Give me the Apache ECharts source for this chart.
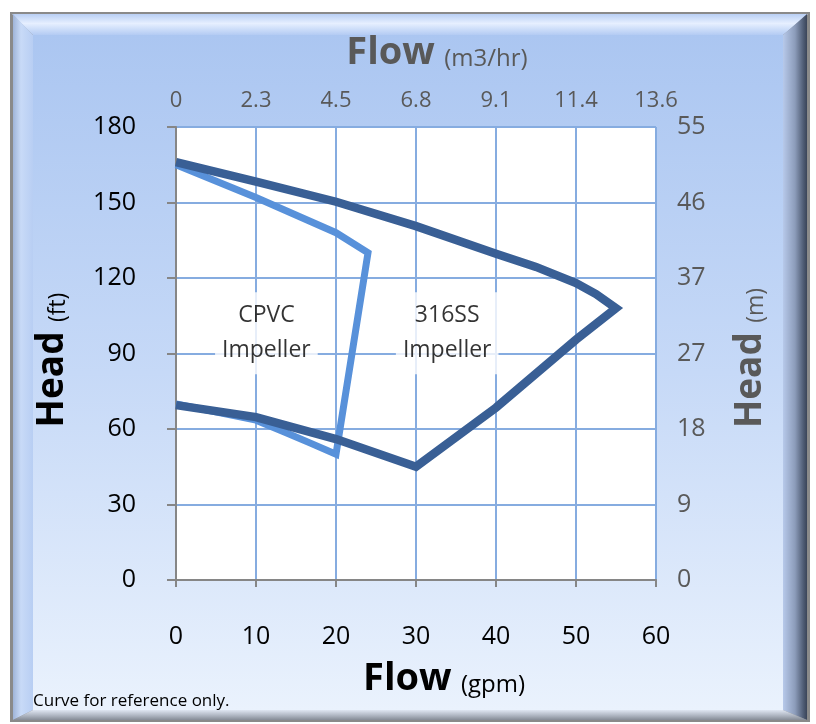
<!DOCTYPE html>
<html>
<head>
<meta charset="utf-8">
<script src="https://cdn.jsdelivr.net/npm/echarts@6/dist/echarts.min.js"></script>
<style>
html,body{margin:0;padding:0;background:#fff;}
#chart{width:816px;height:724px;}
</style>
</head>
<body>
<div id="chart"></div>
<script>
// ---- data ----
const flowGpmTicks = [0, 10, 20, 30, 40, 50, 60];
const flowM3Labels = ['0', '2.3', '4.5', '6.8', '9.1', '11.4', '13.6'];
const headFtTicks = [0, 30, 60, 90, 120, 150, 180];
const headMLabels = ['0', '9', '18', '27', '37', '46', '55'];

// 316SS impeller curve (gpm, ft), drawn in order
const ssFlow = [0, 10, 20, 30, 40, 45, 50, 52.5, 55, 50, 40, 30, 20, 10, 0];
const ssHead = [166, 158.3, 150.3, 140.6, 129.6, 124.4, 118, 113.6, 108, 95.5, 68.5, 45, 56, 64.7, 69.5];

// CPVC impeller curve (gpm, ft)
const cpvcFlow = [0, 10, 20, 24, 20, 16.8, 13.4, 10, 0];
const cpvcHead = [165, 152, 138, 130, 50, 54.4, 59, 63.5, 70];

// annotations (gpm, ft)
const noteText = ['CPVC\nImpeller', '316SS\nImpeller'];
const noteFlow = [11.3, 33.9];
const noteHead = [98, 98];

const zip = (xs, ys) => xs.map((x, i) => [x, ys[i]]);

const FONT = '"Open Sans", "Noto Sans", sans-serif';
const grid = {left: 176, right: 160, top: 127, bottom: 144};
const gridColor = '#86ACE0';
const axisGray = '#868686';

const chart = echarts.init(document.getElementById('chart'), null, {renderer: 'canvas'});

const W = 816, H = 724;
const ox = 10, oy = 12, ow = 800, oh = 710; // outer frame
const bl = 23, bt = 23, br = 27, bb = 12;    // bevel sizes
const ix = ox + bl, iy = oy + bt, iw = ow - bl - br, ih = oh - bt - bb;

const lin = (x0, y0, x1, y1, stops) => new echarts.graphic.LinearGradient(x0, y0, x1, y1, stops.map(s => ({offset: s[0], color: s[1]})));

const option = {
  animation: false,
  backgroundColor: '#ffffff',
  grid: grid,
  xAxis: [
    {
      type: 'value', position: 'bottom', min: 0, max: 60, interval: 10,
      axisLine: {show: true, lineStyle: {color: axisGray, width: 2}},
      axisTick: {show: true, length: 7, lineStyle: {color: axisGray, width: 2}},
      splitLine: {show: true, lineStyle: {color: gridColor, width: 2}},
      axisLabel: {
        margin: 44, fontSize: 25, color: '#000', fontFamily: FONT,
        formatter: v => { const i = flowGpmTicks.indexOf(v); return i >= 0 ? String(flowGpmTicks[i]) : ''; }
      }
    },
    {
      type: 'value', position: 'top', min: 0, max: 60, interval: 10,
      axisLine: {show: false}, axisTick: {show: false}, splitLine: {show: false},
      axisLabel: {
        margin: 15, fontSize: 22, color: '#595959', fontFamily: FONT,
        formatter: v => { const i = flowGpmTicks.indexOf(v); return i >= 0 ? flowM3Labels[i] : ''; }
      }
    }
  ],
  yAxis: [
    {
      type: 'value', position: 'left', min: 0, max: 180, interval: 30,
      axisLine: {show: true, lineStyle: {color: axisGray, width: 2}},
      axisTick: {show: true, length: 9, lineStyle: {color: axisGray, width: 2}},
      splitLine: {show: true, lineStyle: {color: gridColor, width: 2}},
      axisLabel: {
        margin: 40, fontSize: 25, color: '#000', fontFamily: FONT,
        formatter: v => { const i = headFtTicks.indexOf(v); return i >= 0 ? String(headFtTicks[i]) : ''; }
      }
    },
    {
      type: 'value', position: 'right', min: 0, max: 180, interval: 30,
      axisLine: {show: false}, axisTick: {show: false}, splitLine: {show: false},
      axisLabel: {
        margin: 21, fontSize: 25, color: '#595959', fontFamily: FONT,
        formatter: v => { const i = headFtTicks.indexOf(v); return i >= 0 ? headMLabels[i] : ''; }
      }
    }
  ],
  series: [
    {
      name: 'CPVC', type: 'line', xAxisIndex: 0, yAxisIndex: 0,
      data: zip(cpvcFlow, cpvcHead), showSymbol: false, symbol: 'none',
      smooth: false, lineStyle: {color: '#5891DA', width: 7, join: 'miter', cap: 'butt'}, z: 3
    },
    {
      name: '316SS', type: 'line', xAxisIndex: 0, yAxisIndex: 0,
      data: zip(ssFlow, ssHead), showSymbol: false, symbol: 'none',
      smooth: false, lineStyle: {color: '#395F95', width: 8.5, join: 'miter', cap: 'butt'}, z: 4
    },
    {
      name: 'notes', type: 'scatter', xAxisIndex: 0, yAxisIndex: 0,
      symbolSize: 1, itemStyle: {color: 'rgba(0,0,0,0)'}, z: 2,
      data: noteText.map((t, i) => ({value: [noteFlow[i], noteHead[i]], name: t})),
      label: {
        show: true, position: 'inside', formatter: p => p.name,
        fontSize: 23, lineHeight: 35, color: '#000', fontFamily: FONT,
        backgroundColor: '#ffffff', padding: [6, 7, 6, 7], align: 'center'
      }
    }
  ],
  graphic: [
    // outer frame
    {type: 'rect', z: -20, silent: true, shape: {x: ox, y: oy, width: ow, height: oh}, style: {fill: '#8a8a8a'}},
    // top bevel
    {type: 'polygon', z: -19, silent: true, shape: {points: [[ox+2, oy+2], [ox+ow-2, oy+2], [ix+iw, iy], [ix, iy]]},
      style: {fill: lin(0, 0, 0, 1, [[0, '#b9cff4'], [0.45, '#e6efff'], [1, '#b3cbf3']])}},
    // left bevel
    {type: 'polygon', z: -19, silent: true, shape: {points: [[ox+3, oy+2], [ix, iy], [ix, iy+ih], [ox+3, oy+oh-2]]},
      style: {fill: lin(0, 0, 1, 0, [[0, '#9fb4d8'], [0.4, '#c8daf7'], [1, '#b8cef3']])}},
    // right bevel
    {type: 'polygon', z: -19, silent: true, shape: {points: [[ox+ow-3, oy+2], [ox+ow-3, oy+oh-2], [ix+iw, iy+ih], [ix+iw, iy]]},
      style: {fill: lin(0, 0, 1, 0, [[0, '#b7c9ea'], [0.5, '#8c9cba'], [0.85, '#4f5c74'], [1, '#3a4458']])}},
    // bottom bevel
    {type: 'polygon', z: -19, silent: true, shape: {points: [[ox+3, oy+oh-2], [ix, iy+ih], [ix+iw, iy+ih], [ox+ow-3, oy+oh-2]]},
      style: {fill: lin(0, 0, 0, 1, [[0, '#dfe6f2'], [0.6, '#aab1bd'], [1, '#858b96']])}},
    // inner panel
    {type: 'rect', z: -18, silent: true, shape: {x: ix, y: iy, width: iw, height: ih},
      style: {fill: lin(0, 0, 0, 1, [[0, '#abc6f1'], [0.5, '#c6d9f7'], [1, '#eaf2fd']])}},
    // plot area white
    {type: 'rect', z: -17, silent: true, shape: {x: grid.left, y: grid.top, width: W - grid.left - grid.right, height: H - grid.top - grid.bottom}, style: {fill: '#ffffff'}},
    // titles
    {type: 'text', z: 10, silent: true, x: 437, y: 53,
      style: {text: '{b|Flow} {s|(m3/hr)}', align: 'center', verticalAlign: 'middle',
        rich: {b: {fontSize: 38, fontWeight: 'bold', fill: '#595959', fontFamily: FONT}, s: {fontSize: 24, fill: '#595959', fontFamily: FONT, padding: [12, 0, 0, 6]}}}},
    {type: 'text', z: 10, silent: true, x: 444, y: 679,
      style: {text: '{b|Flow} {s|(gpm)}', align: 'center', verticalAlign: 'middle',
        rich: {b: {fontSize: 38, fontWeight: 'bold', fill: '#000', fontFamily: FONT}, s: {fontSize: 24, fill: '#000', fontFamily: FONT, padding: [12, 0, 0, 6]}}}},
    {type: 'text', z: 10, silent: true, x: 52, y: 360, rotation: Math.PI / 2,
      style: {text: '{b|Head} {s|(ft)}', align: 'center', verticalAlign: 'middle',
        rich: {b: {fontSize: 37, fontWeight: 'bold', fill: '#000', fontFamily: FONT}, s: {fontSize: 23, fill: '#000', fontFamily: FONT, padding: [12, 0, 0, 6]}}}},
    {type: 'text', z: 10, silent: true, x: 750, y: 358, rotation: Math.PI / 2,
      style: {text: '{b|Head} {s|(m)}', align: 'center', verticalAlign: 'middle',
        rich: {b: {fontSize: 37, fontWeight: 'bold', fill: '#595959', fontFamily: FONT}, s: {fontSize: 23, fill: '#595959', fontFamily: FONT, padding: [12, 0, 0, 6]}}}},
    {type: 'text', z: 10, silent: true, x: 33, y: 701,
      style: {text: 'Curve for reference only.', align: 'left', verticalAlign: 'middle', fontSize: 17, fill: '#000', fontFamily: FONT}}
  ]
};

chart.setOption(option);
</script>
</body>
</html>
